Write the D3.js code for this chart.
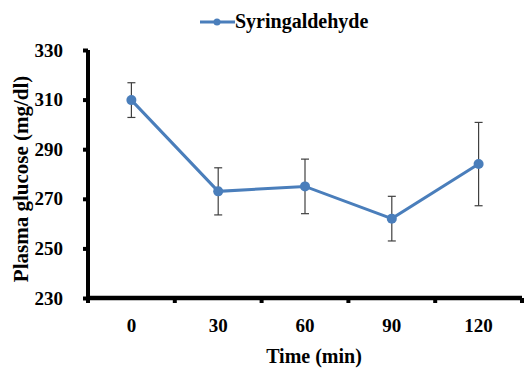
<!DOCTYPE html>
<html lang="en">
<head>
  <meta charset="UTF-8" />
  <title>Plasma glucose</title>
  <style>
    body { margin: 0; background: #fff; }
    svg text { font-family: 'Liberation Serif', 'Times New Roman', Times, serif !important; font-weight: bold; fill: #000; }
  </style>
</head>
<body>
  <script src="https://d3js.org/d3.v7.min.js"></script>
  <script>
    // Data
    const times = ['0', '30', '60', '90', '120'];
    const glucose = [309.8, 273.0, 275.0, 262.0, 284.0];
    const sem = [7.0, 9.5, 11.0, 9.0, 16.8];
    const yTicks = [230, 250, 270, 290, 310, 330];
    const seriesName = 'Syringaldehyde';

    const width = 524, height = 370;
    const margin = { top: 50, right: 2, bottom: 72, left: 88 };

    const svg = d3.select('body').append('svg')
      .attr('width', width)
      .attr('height', height);

    const x = d3.scaleBand()
      .domain(times)
      .range([margin.left, width - margin.right]);

    const y = d3.scaleLinear()
      .domain([230, 330])
      .range([height - margin.bottom, margin.top]);

    const blue = '#4a7ebb';

    // Y axis
    const yAxis = svg.append('g')
      .attr('transform', `translate(${margin.left},0)`)
      .call(d3.axisLeft(y).tickValues(yTicks).tickSize(5).tickPadding(20).tickFormat(d3.format('d')));
    yAxis.attr('font-family', null);
    yAxis.select('.domain').attr('stroke', '#000').attr('stroke-width', 4)
      .attr('d', `M0,${y(330)}V${y(230)}`);
    yAxis.selectAll('.tick line').attr('stroke', '#000').attr('stroke-width', 4);
    yAxis.selectAll('.tick text').attr('font-size', '19px');

    // X axis, ticks between categories
    const xAxis = svg.append('g')
      .attr('transform', `translate(0,${y(230)})`);
    xAxis.append('line')
      .attr('x1', margin.left - 2).attr('x2', width - margin.right)
      .attr('stroke', '#000').attr('stroke-width', 4.5);
    const bounds = times.map(t => x(t)).concat([x(times[times.length - 1]) + x.bandwidth()]);
    xAxis.selectAll('line.tk')
      .data(bounds)
      .enter().append('line')
      .attr('class', 'tk')
      .attr('x1', d => d).attr('x2', d => d)
      .attr('y1', 0).attr('y2', 5)
      .attr('stroke', '#000').attr('stroke-width', 4);
    xAxis.selectAll('text')
      .data(times)
      .enter().append('text')
      .attr('x', d => x(d) + x.bandwidth() / 2)
      .attr('y', 34)
      .attr('text-anchor', 'middle')
      .attr('font-size', '19px')
      .text(d => d);

    // Axis titles
    svg.append('text')
      .attr('x', (margin.left + width - margin.right) / 2 + 9)
      .attr('y', 363)
      .attr('text-anchor', 'middle')
      .attr('font-size', '20px')
      .text('Time (min)');

    svg.append('text')
      .attr('transform', `translate(28,${y(278)}) rotate(-90)`)
      .attr('text-anchor', 'middle')
      .attr('font-size', '21px')
      .text('Plasma glucose (mg/dl)');

    const cx = i => x(times[i]) + x.bandwidth() / 2;

    // Error bars
    const err = svg.append('g').attr('stroke', '#404040').attr('stroke-width', 1.2);
    glucose.forEach((v, i) => {
      err.append('line')
        .attr('x1', cx(i)).attr('x2', cx(i))
        .attr('y1', y(v - sem[i])).attr('y2', y(v + sem[i]));
      [v - sem[i], v + sem[i]].forEach(e => {
        err.append('line')
          .attr('x1', cx(i) - 4).attr('x2', cx(i) + 4)
          .attr('y1', y(e)).attr('y2', y(e));
      });
    });

    // Series line and markers
    const line = d3.line()
      .x((d, i) => cx(i))
      .y(d => y(d));
    svg.append('path')
      .datum(glucose)
      .attr('d', line)
      .attr('fill', 'none')
      .attr('stroke', blue)
      .attr('stroke-width', 3);
    svg.selectAll('circle.pt')
      .data(glucose)
      .enter().append('circle')
      .attr('class', 'pt')
      .attr('cx', (d, i) => cx(i))
      .attr('cy', d => y(d))
      .attr('r', 5)
      .attr('fill', blue);

    // Legend
    const lg = svg.append('g').attr('transform', 'translate(200,22)');
    lg.append('line').attr('x1', 0).attr('x2', 35)
      .attr('stroke', blue).attr('stroke-width', 3);
    lg.append('circle').attr('cx', 17).attr('r', 3.5).attr('fill', blue);
    lg.append('text').attr('x', 35).attr('y', 6)
      .attr('font-size', '20px')
      .text(seriesName);
  </script>
</body>
</html>
